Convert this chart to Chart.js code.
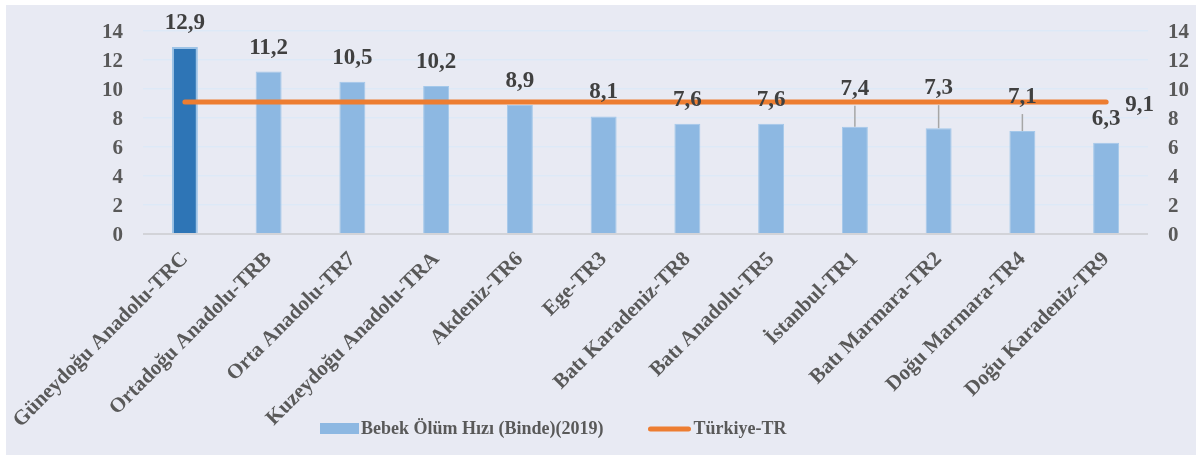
<!DOCTYPE html>
<html>
<head>
<meta charset="utf-8">
<script src="https://cdn.jsdelivr.net/npm/chart.js@4"></script>
<style>
  body { margin: 0; background: #fff; }
  #wrap { position: absolute; left: 6px; top: 5px; width: 1190px; height: 450px; background: #e8eaf3; }
</style>
</head>
<body>
<div id="wrap"><canvas id="chart"></canvas></div>
<script>
const regions = [
  "Güneydoğu Anadolu-TRC", "Ortadoğu Anadolu-TRB", "Orta Anadolu-TR7", "Kuzeydoğu Anadolu-TRA",
  "Akdeniz-TR6", "Ege-TR3", "Batı Karadeniz-TR8", "Batı Anadolu-TR5",
  "İstanbul-TR1", "Batı Marmara-TR2", "Doğu Marmara-TR4", "Doğu Karadeniz-TR9"
];
const infantRate = [12.9, 11.2, 10.5, 10.2, 8.9, 8.1, 7.6, 7.6, 7.4, 7.3, 7.1, 6.3];
const turkeyRate = [9.1, 9.1, 9.1, 9.1, 9.1, 9.1, 9.1, 9.1, 9.1, 9.1, 9.1, 9.1];
const barLabel = "Bebek Ölüm Hızı (Binde)(2019)";
const lineLabel = "Türkiye-TR";

const fontFamily = "'Liberation Serif', 'Times New Roman', serif";
const light = "#8db8e2";
const dark = "#2e75b6";
const orange = "#ed7d31";

// some labels sit higher so they clear the orange line (leader line drawn)
const labelLift = [0, 0, 0, 0, 0, 0, 0, 0, 14, 16, 10, 0];

const fmt = v => v.toFixed(1).replace(".", ",");

const valueLabels = {
  id: "valueLabels",
  afterDatasetsDraw(chart) {
    const ctx = chart.ctx;
    const bars = chart.getDatasetMeta(1).data;
    ctx.save();
    ctx.font = "bold 23px " + fontFamily;
    ctx.fillStyle = "#404040";
    ctx.textAlign = "center";
    ctx.textBaseline = "middle";
    bars.forEach((bar, i) => {
      const lift = labelLift[i];
      const cy = bar.y - 24 - lift;
      if (lift > 0) {
        ctx.strokeStyle = "#a6a6a6";
        ctx.lineWidth = 1.5;
        ctx.beginPath();
        ctx.moveTo(bar.x, cy + 17);
        ctx.lineTo(bar.x, bar.y);
        ctx.stroke();
      }
      ctx.fillText(fmt(infantRate[i]), bar.x, cy);
    });
    // value at the end of the Türkiye line
    const pts = chart.getDatasetMeta(0).data;
    const last = pts[pts.length - 1];
    ctx.textAlign = "left";
    ctx.fillText(fmt(turkeyRate[turkeyRate.length - 1]), last.x + 19, last.y + 3);
    ctx.restore();
  },
  afterDraw(chart) {
    // legend
    const ctx = chart.ctx;
    ctx.save();
    ctx.font = "bold 18px " + fontFamily;
    ctx.textBaseline = "middle";
    let x = 314;
    const y = 424;
    ctx.fillStyle = light;
    ctx.fillRect(x, y - 6, 39, 11);
    ctx.fillStyle = "#595959";
    ctx.fillText(barLabel, x + 41, y);
    x = x + 41 + ctx.measureText(barLabel).width + 45;
    ctx.strokeStyle = orange;
    ctx.lineWidth = 5;
    ctx.lineCap = "round";
    ctx.beginPath();
    ctx.moveTo(x + 2, y);
    ctx.lineTo(x + 40, y);
    ctx.stroke();
    ctx.fillText(lineLabel, x + 45, y);
    ctx.restore();
  }
};

const tickFont = { family: fontFamily, size: 21, weight: "bold" };

function fixY(width) {
  return scale => {
    scale.width = width;
    scale.paddingTop = 0;
    scale.paddingBottom = 0;
  };
}

new Chart(document.getElementById("chart"), {
  data: {
    labels: regions,
    datasets: [
      {
        type: "line",
        label: lineLabel,
        data: turkeyRate,
        borderColor: orange,
        borderWidth: 5,
        borderCapStyle: "round",
        pointRadius: 0,
        yAxisID: "y",
        order: 0
      },
      {
        type: "bar",
        label: barLabel,
        data: infantRate,
        backgroundColor: infantRate.map((v, i) => i === 0 ? dark : light),
        borderColor: infantRate.map((v, i) => i === 0 ? "#9dc3e6" : "#a4c8ea"),
        borderWidth: infantRate.map((v, i) => i === 0 ? 2 : 1),
        barPercentage: 0.31,
        categoryPercentage: 1,
        yAxisID: "y",
        order: 1
      }
    ]
  },
  options: {
    responsive: true,
    maintainAspectRatio: false,
    animation: false,
    layout: { padding: { top: 26, left: 0, right: 0, bottom: 0 } },
    plugins: {
      legend: { display: false },
      tooltip: { enabled: false }
    },
    scales: {
      x: {
        grid: { display: false },
        border: { display: false },
        ticks: {
          font: { family: fontFamily, size: 21, weight: "bold" },
          color: "#595959",
          minRotation: 45,
          maxRotation: 45,
          autoSkip: false,
          padding: 5
        },
        afterFit(scale) { scale.height = 221; }
      },
      y: {
        position: "left",
        min: 0,
        max: 14,
        ticks: { stepSize: 2, autoSkip: false, font: tickFont, color: "#595959", padding: 20, labelOffset: 2 },
        grid: {
          color: c => c.tick.value === 0 ? "#d2d3d8" : "#dde9f7",
          lineWidth: c => c.tick.value === 0 ? 2 : 1.5,
          drawTicks: false
        },
        border: { display: false },
        afterFit: fixY(137)
      },
      y1: {
        position: "right",
        min: 0,
        max: 14,
        ticks: { stepSize: 2, autoSkip: false, font: tickFont, color: "#595959", padding: 20, labelOffset: 2 },
        grid: { display: false, drawTicks: false },
        border: { display: false },
        afterFit: fixY(48)
      }
    }
  },
  plugins: [valueLabels]
});
</script>
</body>
</html>
